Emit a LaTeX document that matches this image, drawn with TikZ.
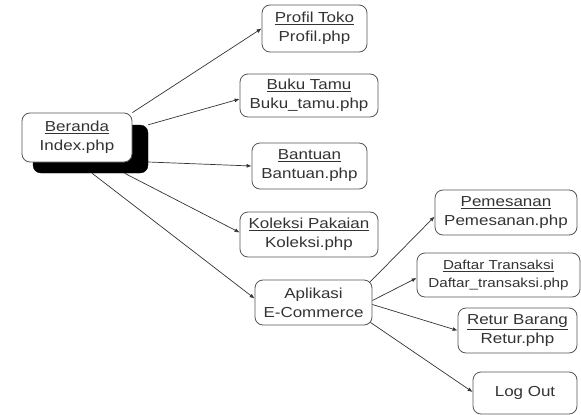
\documentclass[tikz,border=0pt]{standalone}
\usepackage{fontspec}
\setmainfont[FakeStretch=1.17]{Liberation Sans}
\usetikzlibrary{arrows.meta}
\definecolor{boxgray}{HTML}{555555}
\definecolor{txtgray}{HTML}{333333}
\definecolor{linegray}{HTML}{333333}
\begin{document}
\begin{tikzpicture}[x=1pt,y=-1pt,
  box/.style={draw=boxgray, line width=0.8pt, rounded corners=8pt, fill=white,
    align=center, text=txtgray, font=\fontsize{14.5}{19}\selectfont, inner sep=0pt},
  smallbox/.style={box, font=\fontsize{13}{18}\selectfont},
  shadowbox/.style={draw=black, fill=black, rounded corners=8pt, inner sep=0pt},
  link/.style={-{Latex[length=5pt,width=4pt]}, draw=linegray, line width=0.7pt}]
\useasboundingbox (0,0) rectangle (581,415);
% shadow and main node
\node[shadowbox, minimum width=115pt, minimum height=48pt] (bsh) at (90.5,149) {};
\node[box, minimum width=110pt, minimum height=49pt] (ber) at (77,137.5) {\underline{Beranda}\\Index.php};
% first level
\node[box, minimum width=105pt, minimum height=47pt] (prof) at (314.5,28.5) {\underline{Profil Toko}\\Profil.php};
\node[box, minimum width=138pt, minimum height=43pt] (buku) at (309,95.5) {\underline{Buku Tamu}\\Buku\_tamu.php};
\node[box, minimum width=115pt, minimum height=46pt] (bant) at (309.5,166) {\underline{Bantuan}\\Bantuan.php};
\node[box, minimum width=138pt, minimum height=45pt] (kol) at (309,234.5) {\underline{Koleksi Pakaian}\\Koleksi.php};
\node[box, minimum width=117pt, minimum height=45pt] (apl) at (313.5,302.5) {Aplikasi\\E-Commerce};
% second level
\node[box, minimum width=142pt, minimum height=45pt] (pem) at (506,212.5) {\underline{Pemesanan}\\Pemesanan.php};
\node[smallbox, minimum width=163pt, minimum height=44pt] (daf) at (498.5,275) {\underline{Daftar Transaksi}\\Daftar\_transaksi.php};
\node[box, minimum width=119pt, minimum height=45pt] (ret) at (517.5,330.5) {\underline{Retur Barang}\\Retur.php};
\node[box, minimum width=104pt, minimum height=42pt] (log) at (525,393) {Log Out};
% connectors
\draw[link] (ber.north east) -- (prof.west);
\draw[link] (bsh.north east) -- ([yshift=-3.5pt]buku.west);
\draw[link] ([yshift=-13pt]bsh.east) -- (bant.west);
\draw[link] ([xshift=34pt]bsh.south) -- ([yshift=2pt]kol.west);
\draw[link] ([xshift=1.5pt]bsh.south) -- ([yshift=4pt]apl.west);
\draw[link] ([xshift=-3pt,yshift=-3pt]apl.north east) -- ([yshift=-4pt]pem.west);
\draw[link] ([yshift=2pt]apl.east) -- ([yshift=-3pt]daf.west);
\draw[link] ([yshift=-2pt]apl.east) -- (ret.west);
\draw[link] ([xshift=-2pt,yshift=3pt]apl.south east) -- ([yshift=1pt]log.west);
\end{tikzpicture}
\end{document}
